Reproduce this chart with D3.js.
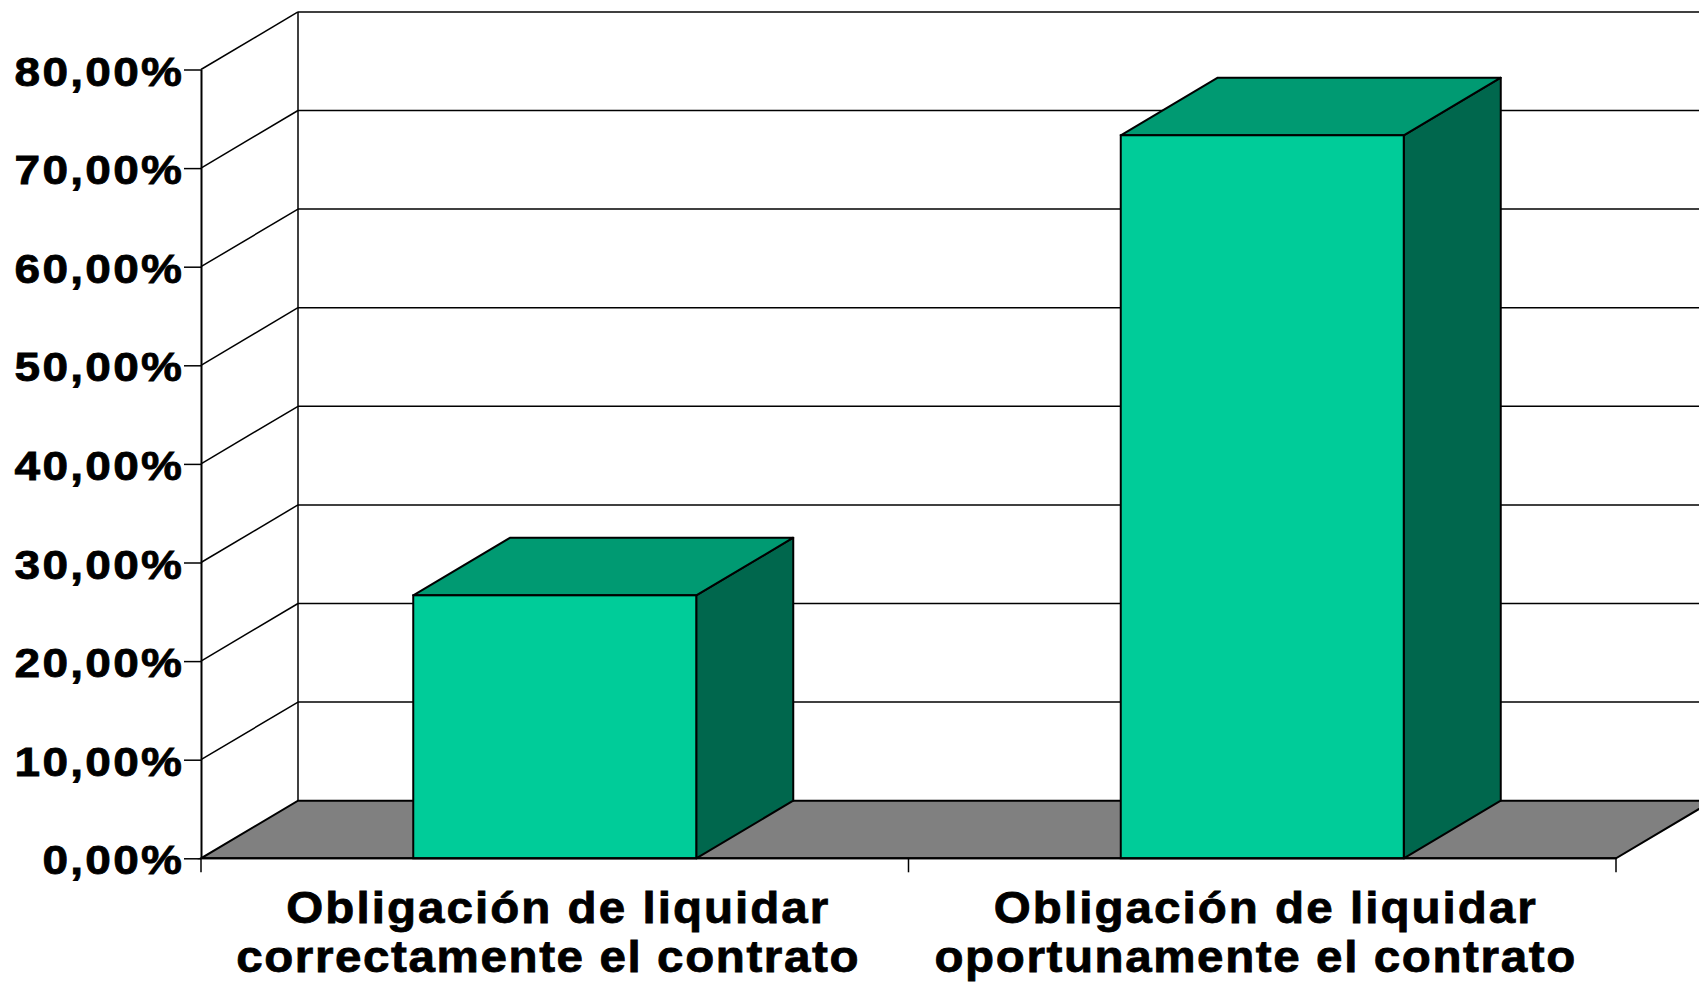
<!DOCTYPE html>
<html>
<head>
<meta charset="utf-8">
<script src="https://cdn.jsdelivr.net/npm/d3@7"></script>
<style>
  html, body { margin: 0; padding: 0; background: #fff; overflow: hidden; }
  svg { display: block; }
</style>
</head>
<body>
<svg id="chart" width="1699" height="982"></svg>
<script>
// data
const categories = [
  ["Obligación de liquidar", "correctamente el contrato"],
  ["Obligación de liquidar", "oportunamente el contrato"]
];
const values = [0.2667, 0.7333];
const yTicks = [0, 0.1, 0.2, 0.3, 0.4, 0.5, 0.6, 0.7, 0.8];

const svg = d3.select("#chart");

// plot box (front plane) and depth offset of the 3d look
const plotLeft = 201, plotRight = 1616, plotBottom = 858.3, plotTop = 69.5;
const dx = 97, dy = 57.6;

const es = d3.formatLocale({decimal: ",", thousands: ".", grouping: [3], currency: ["", "€"]});
const pct = es.format(".2%");

const yScale = d3.scaleLinear().domain([0, 0.8]).range([plotBottom, plotTop]);
const xScale = d3.scaleBand()
  .domain(d3.range(categories.length))
  .range([plotLeft, plotRight])
  .paddingInner(0.6)
  .paddingOuter(0.3);

const g = svg.append("g");

// side wall diagonals
g.selectAll(".diag")
  .data(yTicks.slice(1))
  .enter()
  .append("line")
  .attr("x1", plotLeft)
  .attr("y1", d => yScale(d))
  .attr("x2", plotLeft + dx)
  .attr("y2", d => yScale(d) - dy)
  .style("stroke", "#000")
  .style("stroke-width", 1.5);

// back wall gridlines
g.selectAll(".grid")
  .data(yTicks.slice(1))
  .enter()
  .append("line")
  .attr("x1", plotLeft + dx)
  .attr("x2", 1699)
  .attr("y1", d => yScale(d) - dy)
  .attr("y2", d => yScale(d) - dy)
  .style("stroke", "#000")
  .style("stroke-width", 1.5);

// back wall left edge
g.append("line")
  .attr("x1", plotLeft + dx).attr("x2", plotLeft + dx)
  .attr("y1", yScale(0) - dy).attr("y2", yScale(0.8) - dy)
  .style("stroke", "#000")
  .style("stroke-width", 1.5);

// floor
g.append("path")
  .attr("d", `M${plotLeft},${yScale(0)} L${plotRight},${yScale(0)} L${plotRight + dx},${yScale(0) - dy} L${plotLeft + dx},${yScale(0) - dy} Z`)
  .style("fill", "#808080")
  .style("stroke", "#000")
  .style("stroke-width", 2);

// bars
const bars = g.selectAll(".bar")
  .data(values)
  .enter()
  .append("g");

bars.append("path")  // side
  .attr("d", (d, i) => {
    const x1 = xScale(i) + xScale.bandwidth();
    return `M${x1},${yScale(0)} L${x1 + dx},${yScale(0) - dy} L${x1 + dx},${yScale(d) - dy} L${x1},${yScale(d)} Z`;
  })
  .style("fill", "#00674D")
  .style("stroke", "#000")
  .style("stroke-width", 2)
  .style("stroke-linejoin", "round");

bars.append("path")  // top
  .attr("d", (d, i) => {
    const x0 = xScale(i), x1 = x0 + xScale.bandwidth(), y = yScale(d);
    return `M${x0},${y} L${x1},${y} L${x1 + dx},${y - dy} L${x0 + dx},${y - dy} Z`;
  })
  .style("fill", "#009A72")
  .style("stroke", "#000")
  .style("stroke-width", 2)
  .style("stroke-linejoin", "round");

bars.append("rect")  // front
  .attr("x", (d, i) => xScale(i))
  .attr("y", d => yScale(d))
  .attr("width", xScale.bandwidth())
  .attr("height", d => yScale(0) - yScale(d))
  .style("fill", "#00CC99")
  .style("stroke", "#000")
  .style("stroke-width", 2);

// y axis
const yAxis = d3.axisLeft(yScale)
  .tickValues(yTicks)
  .tickFormat(pct)
  .tickSize(17)
  .tickSizeOuter(0)
  .tickPadding(2);

const ya = g.append("g")
  .attr("transform", `translate(${plotLeft},0)`)
  .call(yAxis);
ya.select(".domain").style("stroke-width", 2);
ya.selectAll(".tick line").style("stroke-width", 1.5);
ya.selectAll("text")
  .attr("x", 0)
  .attr("dx", 2)
  .attr("dy", "0.39em")
  .attr("transform", "translate(-19,0) scale(1.15,1)")
  .style("font-family", "'Liberation Sans', Arial, sans-serif")
  .style("font-weight", "bold")
  .style("font-size", "40px")
  .style("letter-spacing", "2px")
  .style("stroke", "#000")
  .style("stroke-width", 0.8)
  .style("fill", "#000");

// x axis line and ticks
g.append("line")
  .attr("x1", plotLeft).attr("x2", plotRight)
  .attr("y1", yScale(0)).attr("y2", yScale(0))
  .style("stroke", "#000")
  .style("stroke-width", 2);

const xTickPos = [plotLeft].concat(d3.range(categories.length).map(i => xScale(i) - xScale.step() * 0.3 + xScale.step()));
g.selectAll(".xtick")
  .data(xTickPos)
  .enter()
  .append("line")
  .attr("x1", d => d).attr("x2", d => d)
  .attr("y1", yScale(0)).attr("y2", yScale(0) + 14)
  .style("stroke", "#000")
  .style("stroke-width", 1.5);

// category labels
const labels = g.selectAll(".cat")
  .data(categories)
  .enter()
  .append("text")
  .attr("text-anchor", "middle")
  .attr("transform", (d, i) => `translate(${xScale(i) + xScale.bandwidth() / 2 + 2},0) scale(1.08,1)`)
  .style("font-family", "'Liberation Sans', Arial, sans-serif")
  .style("font-weight", "bold")
  .style("font-size", "44px")
  .style("letter-spacing", "1.5px")
  .style("stroke", "#000")
  .style("stroke-width", 0.8)
  .style("fill", "#000");

labels.selectAll("tspan")
  .data(d => d)
  .enter()
  .append("tspan")
  .attr("x", (d, j) => j === 0 ? 1.5 : -8)
  .attr("y", (d, j) => 923 + j * 49)
  .style("letter-spacing", (d, j) => j === 0 ? "1.9px" : "1.5px")
  .text(d => d);
</script>
</body>
</html>
